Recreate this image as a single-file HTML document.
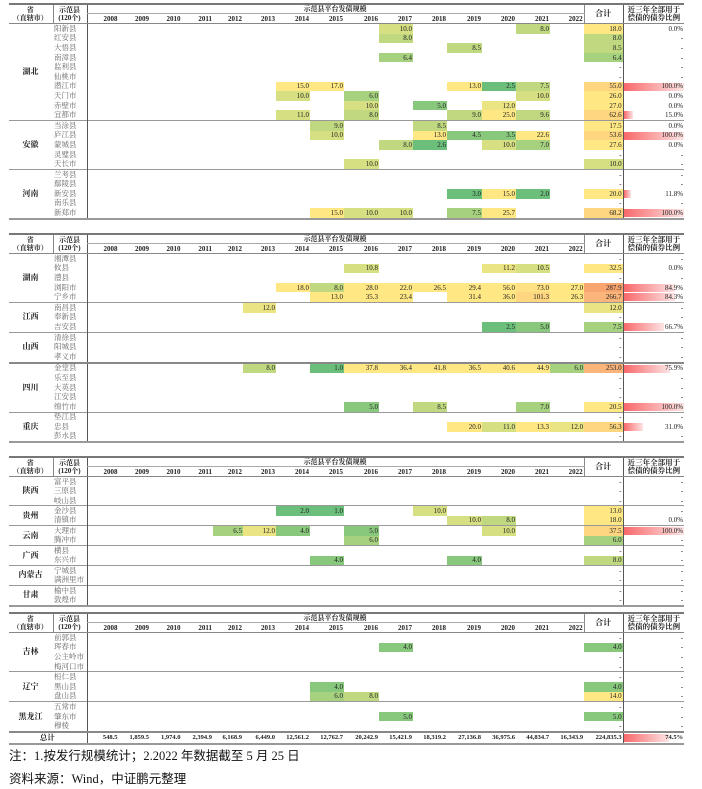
<!DOCTYPE html>
<html><head><meta charset="utf-8">
<style>
body{margin:0;width:702px;height:789px;background:#fff;position:relative;overflow:hidden}
table{position:absolute;left:9px;border-collapse:collapse;table-layout:fixed;width:675px;font-family:"Liberation Serif","Noto Serif CJK SC",serif;font-size:7px;color:#222}
td{height:9.6px;padding:0 1px 0 0;text-align:right;line-height:8px;white-space:nowrap;overflow:visible;vertical-align:middle}
table.t3 td{height:9.45px}
td.c{text-align:left;color:#666;padding-left:1px;font-size:7.5px}
td.p{text-align:center;font-weight:bold;font-size:8px;color:#222}
td.r{border-left:1px solid #555}
tr.s td{border-top:1px solid #999}
tr.s2 td{border-top:2px solid #888}
tr.h td{font-weight:bold;text-align:center;height:8px!important;line-height:8px;color:#222}
tr.h2 td{font-weight:bold;text-align:right;height:9px!important;border-bottom:1.5px solid #888}
td.hp{border-right:1px solid #888}
td.ht{border-bottom:1px solid #aaa;border-left:1px solid #555}
td.hs{border-left:1px solid #888;font-size:8px}
td.hr{border-left:1px solid #555;text-align:left!important;padding-left:4px;font-size:7.5px;border-bottom:1.5px solid #888}
table{border-top:2px solid #777;border-bottom:2px solid #999}
td.v{border-left:1px solid #555}
.a{background:#6bbf7b}.b{background:#88c87d}.cc{background:#a6d17f}.d{background:#c0d980}.e{background:#d6df81}.f{background:#ebe483}.y{background:#ffe884}.y2{background:#fee182}.o{background:#fdd67f}.pp{background:#fbb47a}.q{background:#f9a570}
.bar{background-image:linear-gradient(90deg,#f8696b,#fde4e4);background-repeat:no-repeat;background-position:0 1px}
.note{position:absolute;left:9px;font-family:"Liberation Serif","Noto Sans CJK SC",sans-serif;font-size:12.5px;color:#111}
</style></head><body>

<table style="top:3px">
<colgroup><col style="width:44px"><col style="width:34px"><col style="width:31.5px"><col style="width:31.5px"><col style="width:31.5px"><col style="width:31.5px"><col style="width:30px"><col style="width:33px"><col style="width:34px"><col style="width:34px"><col style="width:35px"><col style="width:34px"><col style="width:34px"><col style="width:35px"><col style="width:34px"><col style="width:34px"><col style="width:34px"><col style="width:39px"><col style="width:61px"></colgroup>
<tr class=h><td rowspan=2 class=hp style="border-bottom:1.5px solid #888">省<br>（直辖市）<td rowspan=2 style="border-bottom:1.5px solid #888">示范县<br>(120个)<td colspan=15 class=ht>示范县平台发债规模<td rowspan=2 class=hs style="border-bottom:1.5px solid #888">合计<td rowspan=2 class=hr>近三年全部用于<br>偿债的债券比例
<tr class=h2><td class=v>2008<td>2009<td>2010<td>2011<td>2012<td>2013<td>2014<td>2015<td>2016<td>2017<td>2018<td>2019<td>2020<td>2021<td>2022
<tr><td rowspan=10 class=p>湖北<td class=c>阳新县<td class=v><td><td><td><td><td><td><td><td><td class=e>10.0<td><td><td><td class=d>8.0<td><td class=y>18.0<td class=r>0.0%
<tr><td class=c>红安县<td class=v><td><td><td><td><td><td><td><td><td class=d>8.0<td><td><td><td><td><td class=d>8.0<td class=r>-
<tr><td class=c>大悟县<td class=v><td><td><td><td><td><td><td><td><td><td><td class=d>8.5<td><td><td><td class=d>8.5<td class=r>-
<tr><td class=c>南漳县<td class=v><td><td><td><td><td><td><td><td><td class=cc>6.4<td><td><td><td><td><td class=cc>6.4<td class=r>-
<tr><td class=c>监利县<td class=v><td><td><td><td><td><td><td><td><td><td><td><td><td><td><td>-<td class=r>-
<tr><td class=c>仙桃市<td class=v><td><td><td><td><td><td><td><td><td><td><td><td><td><td><td>-<td class=r>-
<tr><td class=c>潜江市<td class=v><td><td><td><td><td><td class=y>15.0<td class=y>17.0<td><td><td><td class=y>13.0<td class=a>2.5<td class=d>7.5<td><td class=o>55.0<td class="r bar" style="background-size:60px 8px">100.0%
<tr><td class=c>天门市<td class=v><td><td><td><td><td><td class=e>10.0<td><td class=cc>6.0<td><td><td><td><td class=e>10.0<td><td class=y>26.0<td class=r>0.0%
<tr><td class=c>赤壁市<td class=v><td><td><td><td><td><td><td><td class=e>10.0<td><td class=b>5.0<td><td class=f>12.0<td><td><td class=y>27.0<td class=r>0.0%
<tr><td class=c>宜都市<td class=v><td><td><td><td><td><td class=e>11.0<td><td class=d>8.0<td><td><td class=d>9.0<td class=y>25.0<td class=d>9.6<td><td class=o>62.6<td class="r bar" style="background-size:9px 8px">15.0%
<tr class=s><td rowspan=5 class=p>安徽<td class=c>当涂县<td class=v><td><td><td><td><td><td><td class=d>9.0<td><td><td class=d>8.5<td><td><td><td><td class=y>17.5<td class=r>0.0%
<tr><td class=c>庐江县<td class=v><td><td><td><td><td><td><td class=e>10.0<td><td><td class=y>13.0<td class=b>4.5<td class=b>3.5<td class=y>22.6<td><td class=o>53.6<td class="r bar" style="background-size:60px 8px">100.0%
<tr><td class=c>蒙城县<td class=v><td><td><td><td><td><td><td><td><td class=d>8.0<td class=a>2.6<td><td class=e>10.0<td class=cc>7.0<td><td class=y>27.6<td class=r>0.0%
<tr><td class=c>灵璧县<td class=v><td><td><td><td><td><td><td><td><td><td><td><td><td><td><td>-<td class=r>-
<tr><td class=c>天长市<td class=v><td><td><td><td><td><td><td><td class=e>10.0<td><td><td><td><td><td><td class=e>10.0<td class=r>-
<tr class=s><td rowspan=5 class=p>河南<td class=c>兰考县<td class=v><td><td><td><td><td><td><td><td><td><td><td><td><td><td><td>-<td class=r>-
<tr><td class=c>鄢陵县<td class=v><td><td><td><td><td><td><td><td><td><td><td><td><td><td><td>-<td class=r>-
<tr><td class=c>新安县<td class=v><td><td><td><td><td><td><td><td><td><td><td class=a>3.0<td class=y>15.0<td class=a>2.0<td><td class=y>20.0<td class="r bar" style="background-size:7px 8px">11.8%
<tr><td class=c>南乐县<td class=v><td><td><td><td><td><td><td><td><td><td><td><td><td><td><td>-<td class=r>-
<tr><td class=c>新郑市<td class=v><td><td><td><td><td><td><td class=y>15.0<td class=e>10.0<td class=e>10.0<td><td class=cc>7.5<td class=y>25.7<td><td><td class=o>68.2<td class="r bar" style="background-size:60px 8px">100.0%
</table>

<table style="top:233px">
<colgroup><col style="width:44px"><col style="width:34px"><col style="width:31.5px"><col style="width:31.5px"><col style="width:31.5px"><col style="width:31.5px"><col style="width:30px"><col style="width:33px"><col style="width:34px"><col style="width:34px"><col style="width:35px"><col style="width:34px"><col style="width:34px"><col style="width:35px"><col style="width:34px"><col style="width:34px"><col style="width:34px"><col style="width:39px"><col style="width:61px"></colgroup>
<tr class=h><td rowspan=2 class=hp style="border-bottom:1.5px solid #888">省<br>（直辖市）<td rowspan=2 style="border-bottom:1.5px solid #888">示范县<br>(120个)<td colspan=15 class=ht>示范县平台发债规模<td rowspan=2 class=hs style="border-bottom:1.5px solid #888">合计<td rowspan=2 class=hr>近三年全部用于<br>偿债的债券比例
<tr class=h2><td class=v>2008<td>2009<td>2010<td>2011<td>2012<td>2013<td>2014<td>2015<td>2016<td>2017<td>2018<td>2019<td>2020<td>2021<td>2022
<tr><td rowspan=5 class=p>湖南<td class=c>湘潭县<td class=v><td><td><td><td><td><td><td><td><td><td><td><td><td><td><td>-<td class=r>-
<tr><td class=c>攸县<td class=v><td><td><td><td><td><td><td><td class=e>10.8<td><td><td><td class=f>11.2<td class=e>10.5<td><td class=y>32.5<td class=r>0.0%
<tr><td class=c>澧县<td class=v><td><td><td><td><td><td><td><td><td><td><td><td><td><td><td>-<td class=r>-
<tr><td class=c>浏阳市<td class=v><td><td><td><td><td><td class=y>18.0<td class=d>8.0<td class=y>28.0<td class=y>22.0<td class=y>26.5<td class=y>29.4<td class=y>56.0<td class=y2>73.0<td class=y>27.0<td class=q>287.9<td class="r bar" style="background-size:51px 8px">84.9%
<tr><td class=c>宁乡市<td class=v><td><td><td><td><td><td><td class=y>13.0<td class=y>35.3<td class=y>23.4<td><td class=y>31.4<td class=y>36.0<td class=o>101.3<td class=y>26.3<td class=pp>266.7<td class="r bar" style="background-size:51px 8px">84.3%
<tr class=s><td rowspan=3 class=p>江西<td class=c>南昌县<td class=v><td><td><td><td><td class=f>12.0<td><td><td><td><td><td><td><td><td><td class=f>12.0<td class=r>-
<tr><td class=c>奉新县<td class=v><td><td><td><td><td><td><td><td><td><td><td><td><td><td><td>-<td class=r>-
<tr><td class=c>吉安县<td class=v><td><td><td><td><td><td><td><td><td><td><td><td class=a>2.5<td class=b>5.0<td><td class=cc>7.5<td class="r bar" style="background-size:40px 8px">66.7%
<tr class=s><td rowspan=3 class=p>山西<td class=c>清徐县<td class=v><td><td><td><td><td><td><td><td><td><td><td><td><td><td><td>-<td class=r>-
<tr><td class=c>阳城县<td class=v><td><td><td><td><td><td><td><td><td><td><td><td><td><td><td>-<td class=r>-
<tr><td class=c>孝义市<td class=v><td><td><td><td><td><td><td><td><td><td><td><td><td><td><td>-<td class=r>-
<tr class=s2><td rowspan=5 class=p>四川<td class=c>金堂县<td class=v><td><td><td><td><td class=d>8.0<td><td class=a>1.0<td class=y>37.8<td class=y>36.4<td class=y>41.8<td class=y>36.5<td class=y>40.6<td class=y>44.9<td class=cc>6.0<td class=pp>253.0<td class="r bar" style="background-size:46px 8px">75.9%
<tr><td class=c>乐至县<td class=v><td><td><td><td><td><td><td><td><td><td><td><td><td><td><td>-<td class=r>-
<tr><td class=c>大英县<td class=v><td><td><td><td><td><td><td><td><td><td><td><td><td><td><td>-<td class=r>-
<tr><td class=c>江安县<td class=v><td><td><td><td><td><td><td><td><td><td><td><td><td><td><td>-<td class=r>-
<tr><td class=c>绵竹市<td class=v><td><td><td><td><td><td><td><td class=b>5.0<td><td class=d>8.5<td><td><td class=cc>7.0<td><td class=y>20.5<td class="r bar" style="background-size:60px 8px">100.0%
<tr class=s><td rowspan=3 class=p>重庆<td class=c>垫江县<td class=v><td><td><td><td><td><td><td><td><td><td><td><td><td><td><td>-<td class=r>-
<tr><td class=c>忠县<td class=v><td><td><td><td><td><td><td><td><td><td><td class=y>20.0<td class=e>11.0<td class=y>13.3<td class=f>12.0<td class=o>56.3<td class="r bar" style="background-size:19px 8px">31.0%
<tr><td class=c>彭水县<td class=v><td><td><td><td><td><td><td><td><td><td><td><td><td><td><td>-<td class=r>-
</table>

<table class=t3 style="top:456px">
<colgroup><col style="width:44px"><col style="width:34px"><col style="width:31.5px"><col style="width:31.5px"><col style="width:31.5px"><col style="width:31.5px"><col style="width:30px"><col style="width:33px"><col style="width:34px"><col style="width:34px"><col style="width:35px"><col style="width:34px"><col style="width:34px"><col style="width:35px"><col style="width:34px"><col style="width:34px"><col style="width:34px"><col style="width:39px"><col style="width:61px"></colgroup>
<tr class=h><td rowspan=2 class=hp style="border-bottom:1.5px solid #888">省<br>（直辖市）<td rowspan=2 style="border-bottom:1.5px solid #888">示范县<br>(120个)<td colspan=15 class=ht>示范县平台发债规模<td rowspan=2 class=hs style="border-bottom:1.5px solid #888">合计<td rowspan=2 class=hr>近三年全部用于<br>偿债的债券比例
<tr class=h2><td class=v>2008<td>2009<td>2010<td>2011<td>2012<td>2013<td>2014<td>2015<td>2016<td>2017<td>2018<td>2019<td>2020<td>2021<td>2022
<tr><td rowspan=3 class=p>陕西<td class=c>富平县<td class=v><td><td><td><td><td><td><td><td><td><td><td><td><td><td><td>-<td class=r>-
<tr><td class=c>三原县<td class=v><td><td><td><td><td><td><td><td><td><td><td><td><td><td><td>-<td class=r>-
<tr><td class=c>岐山县<td class=v><td><td><td><td><td><td><td><td><td><td><td><td><td><td><td>-<td class=r>-
<tr class=s><td rowspan=2 class=p>贵州<td class=c>金沙县<td class=v><td><td><td><td><td><td class=a>2.0<td class=a>1.0<td><td><td class=e>10.0<td><td><td><td><td class=y>13.0<td class=r>-
<tr><td class=c>清镇市<td class=v><td><td><td><td><td><td><td><td><td><td><td class=e>10.0<td class=d>8.0<td><td><td class=y>18.0<td class=r>0.0%
<tr class=s><td rowspan=2 class=p>云南<td class=c>大理市<td class=v><td><td><td><td class=cc>6.5<td class=f>12.0<td class=b>4.0<td><td class=b>5.0<td><td><td><td class=e>10.0<td><td><td class=o>37.5<td class="r bar" style="background-size:60px 8px">100.0%
<tr><td class=c>腾冲市<td class=v><td><td><td><td><td><td><td><td class=cc>6.0<td><td><td><td><td><td><td class=cc>6.0<td class=r>-
<tr class=s><td rowspan=2 class=p>广西<td class=c>横县<td class=v><td><td><td><td><td><td><td><td><td><td><td><td><td><td><td>-<td class=r>-
<tr><td class=c>东兴市<td class=v><td><td><td><td><td><td><td class=b>4.0<td><td><td><td class=b>4.0<td><td><td><td class=d>8.0<td class=r>-
<tr class=s><td rowspan=2 class=p>内蒙古<td class=c>宁城县<td class=v><td><td><td><td><td><td><td><td><td><td><td><td><td><td><td>-<td class=r>-
<tr><td class=c>满洲里市<td class=v><td><td><td><td><td><td><td><td><td><td><td><td><td><td><td>-<td class=r>-
<tr class=s><td rowspan=2 class=p>甘肃<td class=c>榆中县<td class=v><td><td><td><td><td><td><td><td><td><td><td><td><td><td><td>-<td class=r>-
<tr><td class=c>敦煌市<td class=v><td><td><td><td><td><td><td><td><td><td><td><td><td><td><td>-<td class=r>-
</table>

<table style="top:612px">
<colgroup><col style="width:44px"><col style="width:34px"><col style="width:31.5px"><col style="width:31.5px"><col style="width:31.5px"><col style="width:31.5px"><col style="width:30px"><col style="width:33px"><col style="width:34px"><col style="width:34px"><col style="width:35px"><col style="width:34px"><col style="width:34px"><col style="width:35px"><col style="width:34px"><col style="width:34px"><col style="width:34px"><col style="width:39px"><col style="width:61px"></colgroup>
<tr class=h><td rowspan=2 class=hp style="border-bottom:1.5px solid #888">省<br>（直辖市）<td rowspan=2 style="border-bottom:1.5px solid #888">示范县<br>(120个)<td colspan=15 class=ht>示范县平台发债规模<td rowspan=2 class=hs style="border-bottom:1.5px solid #888">合计<td rowspan=2 class=hr>近三年全部用于<br>偿债的债券比例
<tr class=h2><td class=v>2008<td>2009<td>2010<td>2011<td>2012<td>2013<td>2014<td>2015<td>2016<td>2017<td>2018<td>2019<td>2020<td>2021<td>2022
<tr><td rowspan=4 class=p>吉林<td class=c>前郭县<td class=v><td><td><td><td><td><td><td><td><td><td><td><td><td><td><td>-<td class=r>-
<tr><td class=c>珲春市<td class=v><td><td><td><td><td><td><td><td><td class=b>4.0<td><td><td><td><td><td class=b>4.0<td class=r>-
<tr><td class=c>公主岭市<td class=v><td><td><td><td><td><td><td><td><td><td><td><td><td><td><td>-<td class=r>-
<tr><td class=c>梅河口市<td class=v><td><td><td><td><td><td><td><td><td><td><td><td><td><td><td>-<td class=r>-
<tr class=s><td rowspan=3 class=p>辽宁<td class=c>桓仁县<td class=v><td><td><td><td><td><td><td><td><td><td><td><td><td><td><td>-<td class=r>-
<tr><td class=c>黑山县<td class=v><td><td><td><td><td><td><td class=b>4.0<td><td><td><td><td><td><td><td class=b>4.0<td class=r>-
<tr><td class=c>盘山县<td class=v><td><td><td><td><td><td><td class=cc>6.0<td class=d>8.0<td><td><td><td><td><td><td class=y>14.0<td class=r>-
<tr class=s><td rowspan=3 class=p>黑龙江<td class=c>五常市<td class=v><td><td><td><td><td><td><td><td><td><td><td><td><td><td><td>-<td class=r>-
<tr><td class=c>肇东市<td class=v><td><td><td><td><td><td><td><td><td class=b>5.0<td><td><td><td><td><td class=b>5.0<td class=r>-
<tr><td class=c>穆棱<td class=v><td><td><td><td><td><td><td><td><td><td><td><td><td><td><td>-<td class=r>-
<tr class=s2 style="font-weight:bold;font-size:6.5px"><td colspan=2 style="text-align:center;font-size:7.5px">总计<td class=v>548.5<td>1,859.5<td>1,974.0<td>2,394.9<td>6,168.9<td>6,449.0<td>12,561.2<td>12,762.7<td>20,242.9<td>15,421.9<td>18,319.2<td>27,136.8<td>36,975.6<td>44,834.7<td>16,343.9<td>224,835.3<td class="r bar" style="background-size:45px 8px">74.5%
</table>

<div class="note" style="top:745px">注：1.按发行规模统计；2.2022 年数据截至 5 月 25 日</div>
<div class="note" style="top:768px">资料来源：Wind，中证鹏元整理</div>
</body></html>
